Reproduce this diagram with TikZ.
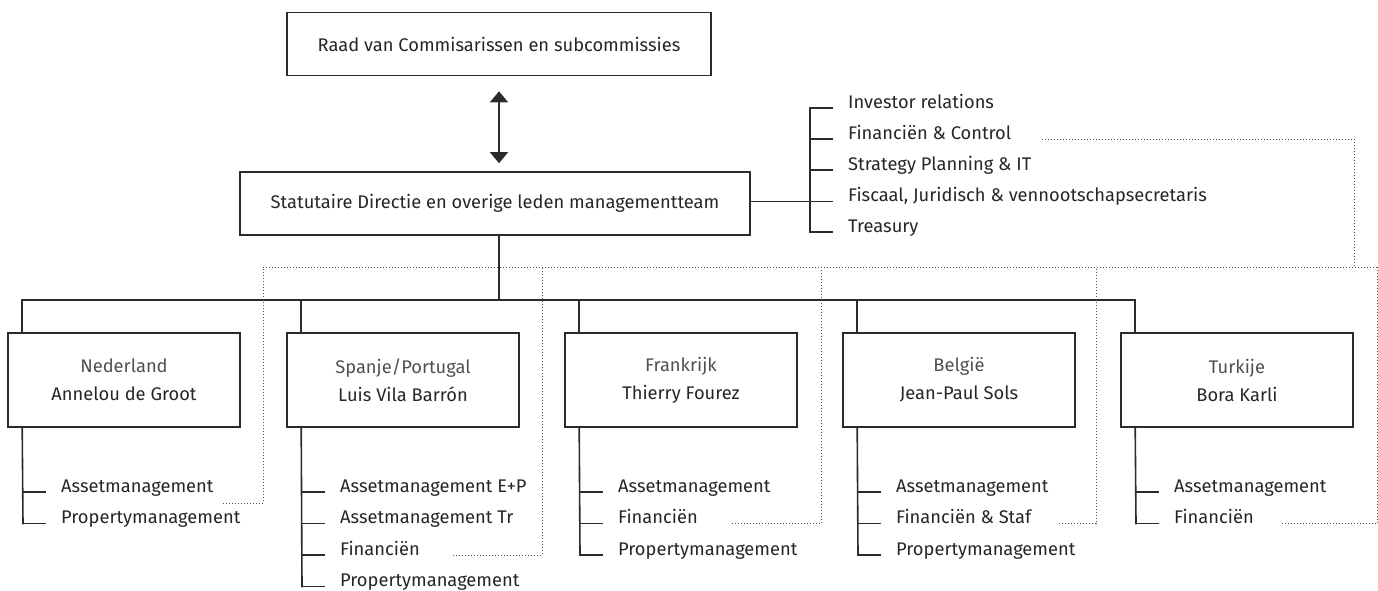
\documentclass[tikz,border=0pt]{standalone}
\usepackage{fontspec}
\setmainfont{Fira Sans}
\usetikzlibrary{arrows.meta}
\definecolor{ln}{HTML}{2B2B2B}
\definecolor{tx}{HTML}{262626}
\definecolor{txl}{HTML}{505050}
\definecolor{dt}{HTML}{505050}
\begin{document}
\begin{tikzpicture}[x=1pt,y=-1pt,
  box/.style={draw=ln,line width=1.6pt,minimum height=63pt,inner sep=0pt,
    font=\fontsize{18.3}{22}\selectfont,text=tx},
  cbox/.style={draw=ln,line width=1.6pt,minimum width=232pt,minimum height=94pt,
    inner sep=0pt,align=center,font=\fontsize{18.3}{28}\selectfont,text=tx},
  conn/.style={draw=ln,line width=1.6pt,line cap=rect},
  dots/.style={draw=dt,line width=1pt,dash pattern=on 1pt off 2pt},
  item/.style={anchor=base west,inner sep=0pt,font=\fontsize{18.3}{22}\selectfont,text=tx},
  tipA/.tip={Triangle[width=18pt,length=11pt]}
]
\useasboundingbox (0,0) rectangle (1378,590);

% top boxes
\node[box,minimum width=424pt] (rvc) at (499,44) {Raad van Commisarissen en subcommissies};
\node[box,minimum width=510pt] (sd) at (495,203.5) {Statutaire Directie en overige leden managementteam};
\coordinate (a1) at ([yshift=-15pt]rvc.south);
\coordinate (a2) at ([yshift=8pt]sd.north);
\draw[conn,line cap=butt,tipA-tipA] (a1) -- (a1 |- a2);

% staff list
\node[item] (ir) at (848,108) {Investor relations};
\node[item] (fc) at (848,139) {Financiën \& Control};
\node[item] (sp) at (848,170) {Strategy Planning \& IT};
\node[item] (fj) at (848,201.5) {Fiscaal, Juridisch \& vennootschapsecretaris};
\node[item] (tr) at (848,232) {Treasury};
\draw[conn] ([xshift=-38pt]ir.base west) -- ([xshift=-38pt]tr.base west);
\foreach \n in {ir,fc,sp,fj,tr}
  \draw[conn] ([xshift=-38pt]\n.base west) -- ([xshift=-16pt]\n.base west);
\coordinate (fjt) at ([xshift=-38pt]fj.base west);
\draw[conn] (sd.east |- fjt) -- (fjt);

% country boxes
\node[cbox] (ned) at (124,380) {{\color{txl}Nederland}\\Annelou de Groot};
\node[cbox] (spa) at (403,380) {{\color{txl}Spanje/Portugal}\\Luis Vila Barrón};
\node[cbox] (fra) at (681,380) {{\color{txl}Frankrijk}\\Thierry Fourez};
\node[cbox] (bel) at (959,380) {{\color{txl}België}\\Jean-Paul Sols};
\node[cbox] (tur) at (1237,380) {{\color{txl}Turkije}\\Bora Karli};

% main tree
\coordinate (hy) at (0,300);
\foreach \c in {ned,spa,fra,bel,tur}{
  \coordinate (\c-dp) at ([xshift=15pt]\c.north west);
  \draw[conn] (\c-dp |- hy) -- (\c-dp);
}
\draw[conn] (ned-dp |- hy) -- (tur-dp |- hy);
\draw[conn] (sd.south -| a1) -- (a1 |- hy);

% sub lists
\node[item] (ned1) at (61,492) {Assetmanagement};
\node[item] (ned2) at (61,523.5) {Propertymanagement};
\node[item] (spa1) at (340,492) {Assetmanagement E+P};
\node[item] (spa2) at (340,523.5) {Assetmanagement Tr};
\node[item] (spa3) at (340,555) {Financiën};
\node[item] (spa4) at (340,586.5) {Propertymanagement};
\node[item] (fra1) at (618,492) {Assetmanagement};
\node[item] (fra2) at (618,523.5) {Financiën};
\node[item] (fra3) at (618,555) {Propertymanagement};
\node[item] (bel1) at (896,492) {Assetmanagement};
\node[item] (bel2) at (896,523.5) {Financiën \& Staf};
\node[item] (bel3) at (896,555) {Propertymanagement};
\node[item] (tur1) at (1174,492) {Assetmanagement};
\node[item] (tur2) at (1174,523.5) {Financiën};

\foreach \c/\last in {ned/ned2,spa/spa4,fra/fra3,bel/bel3,tur/tur2}
  \draw[conn] (\c-dp |- \c.south) -- ([xshift=-38pt]\last.base west);
\foreach \n in {ned1,ned2,spa1,spa2,spa3,spa4,fra1,fra2,fra3,bel1,bel2,bel3,tur1,tur2}
  \draw[conn] ([xshift=-38pt]\n.base west) -- ([xshift=-16pt]\n.base west);

% dotted reporting lines
\coordinate (nedv) at (263,267);
\coordinate (spav) at (542,267);
\coordinate (frav) at (821,267);
\coordinate (belv) at (1096,267);
\coordinate (turv) at (1377,267);
\coordinate (fcv) at (1354,267);
\draw[dots] (nedv) -- (turv);
\draw[dots] ([xshift=31pt]fc.base east) -| (fcv);
\coordinate (nedx) at (223,503);
\coordinate (spax) at (453,555);
\coordinate (frax) at (732,523.5);
\coordinate (belx) at (1059,523.5);
\coordinate (turx) at (1282,523.5);
\foreach \c in {ned,spa,fra,bel,tur}
  \draw[dots] (\c x) -| (\c v);
\end{tikzpicture}
\end{document}
